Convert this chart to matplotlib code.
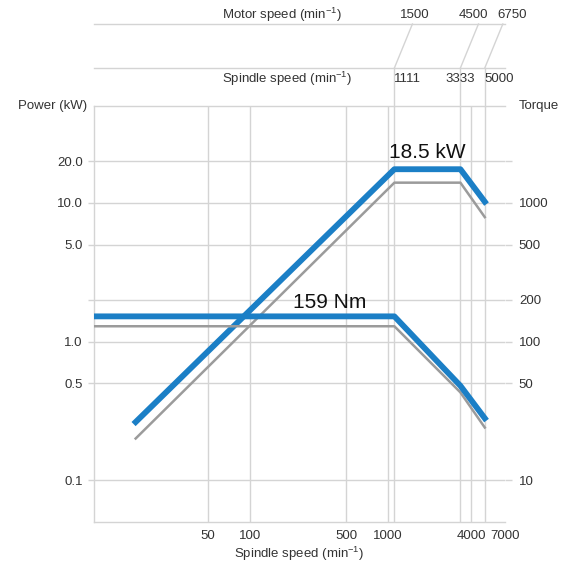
import matplotlib
matplotlib.use("Agg")
import matplotlib.pyplot as plt
import numpy as np
from matplotlib.ticker import NullLocator

plt.rcParams['font.family'] = ['Liberation Sans', 'DejaVu Sans']
plt.rcParams['font.size'] = 9.5
plt.rcParams['mathtext.fontset'] = 'custom'
plt.rcParams['mathtext.rm'] = 'Liberation Sans'
plt.rcParams['mathtext.it'] = 'Liberation Sans'
plt.rcParams['mathtext.default'] = 'regular'

# power (kW) vs spindle speed (min-1)
power_speed = [15, 1111, 3333, 5000]
power_peak = [0.263, 17.5, 17.5, 10.2]
power_cont = [0.2, 14, 14, 7.9]

# torque (Nm) vs spindle speed
torque_speed = [7.5, 1111, 3333, 5000]
torque_peak = [152, 152, 48, 28]
torque_cont = [129, 129, 43, 24]

grid_x = [50, 100, 500, 1000, 1111, 3333, 4000, 5000]
x_ticks = [50, 100, 500, 1000, 4000, 7000]
power_ticks = [0.1, 0.5, 1, 2, 5, 10, 20]
power_labels = ['0.1', '0.5', '1.0', '', '5.0', '10.0', '20.0']
torque_ticks = [10, 50, 100, 200, 500, 1000, 2000]
torque_labels = ['10', '50', '100', '200', '500', '1000', '']

# speed conversion table on top
spindle_pts = [1111, 3333, 5000]
motor_pts = [1500, 4500, 6750]

blue = '#1b7fc6'
grey = '#9b9b9b'
gc = '#d4d4d4'
tc = '#333333'
unit = r'(min$^{-1}$)'

W, H = 565, 564
fig = plt.figure(figsize=(W / 100, H / 100), dpi=100)
ax = fig.add_axes([94 / W, 1 - 522 / H, 411 / W, 416 / H])
ax.set_xscale('log')
ax.set_yscale('log')
ax.set_xlim(7.5, 7000)
ax.set_ylim(0.05, 50)

ax2 = ax.twinx()
ax2.set_yscale('log')
ax2.set_ylim(5, 5000)

for a in (ax, ax2):
    for s in a.spines.values():
        s.set_visible(False)
for s in ('left', 'bottom', 'top'):
    ax.spines[s].set_visible(True)
    ax.spines[s].set_color(gc)
    ax.spines[s].set_linewidth(1)

ax.set_yticks(power_ticks, power_labels)
ax.yaxis.set_minor_locator(NullLocator())
ax.grid(axis='y', color=gc, lw=1)
ax.tick_params(axis='y', length=4.5, width=1, color=gc, pad=3.5, labelcolor=tc)

ax2.set_yticks(torque_ticks, torque_labels)
ax2.yaxis.set_minor_locator(NullLocator())
ax2.tick_params(axis='y', length=5, width=1, color=gc, pad=5, labelcolor=tc)

ax.set_xticks(x_ticks, [str(v) for v in x_ticks])
ax.xaxis.set_minor_locator(NullLocator())
ax.tick_params(axis='x', length=0, pad=6, labelcolor=tc)
ax.set_xlabel('Spindle speed ' + unit, color=tc, labelpad=2)

for v in grid_x:
    ax.axvline(v, color=gc, lw=1, zorder=1)

# curves
ax.plot(power_speed, power_cont, color=grey, lw=1.8, zorder=3)
ax.plot(power_speed, power_peak, color=blue, lw=4.2, zorder=4)
ax2.plot(torque_speed, torque_cont, color=grey, lw=1.8, zorder=3)
ax2.plot(torque_speed, torque_peak, color=blue, lw=4.2, zorder=4)

ax.annotate('18.5 kW', xy=(np.sqrt(power_speed[1] * power_speed[2]), power_peak[1]),
            xytext=(0, 12), textcoords='offset points', ha='center', va='center',
            fontsize=15, color='#111111')
ax2.annotate('159 Nm', xy=(380, torque_peak[0]), xytext=(0, 10),
             textcoords='offset points', ha='center', va='center',
             fontsize=15, color='#111111')

ax.text(-7 / 411, 1.0, 'Power (kW)', transform=ax.transAxes, ha='right',
        va='center', color=tc)
ax.text(1.034, 1.0, 'Torque', transform=ax.transAxes, ha='left',
        va='center', color=tc)

# speed table above the chart
xt = ax.get_xaxis_transform()
y_sp = (522 - 68) / 416
y_mo = (522 - 24) / 416
y_sp_txt = (522 - 79) / 416
y_mo_txt = (522 - 15) / 416
for yy in (y_sp, y_mo):
    ax.plot([0, 1], [yy, yy], transform=ax.transAxes, color=gc, lw=1, clip_on=False)
for s, m in zip(spindle_pts, motor_pts):
    ax.plot([s, s], [1, y_sp], transform=xt, color=gc, lw=1, clip_on=False)
    ax.plot([s, m], [y_sp, y_mo], transform=xt, color=gc, lw=1, clip_on=False)

ax.text((222 - 94) / 411, y_mo_txt, 'Motor speed ' + unit, transform=ax.transAxes,
        ha='left', va='center', color=tc)
ax.text((222 - 94) / 411, y_sp_txt, 'Spindle speed ' + unit, transform=ax.transAxes,
        ha='left', va='center', color=tc)

for m, dx in zip(motor_pts, [2, -5, 9]):
    ax.annotate(str(m), xy=(m, y_mo_txt), xycoords=xt, xytext=(dx, 0),
                textcoords='offset pixels', ha='center', va='center', color=tc)
for s, ha in zip(spindle_pts, ['left', 'center', 'left']):
    ax.annotate(str(s), xy=(s, y_sp_txt), xycoords=xt, xytext=(0, 0),
                textcoords='offset pixels', ha=ha, va='center', color=tc)

fig.savefig('out.png', dpi=100)
